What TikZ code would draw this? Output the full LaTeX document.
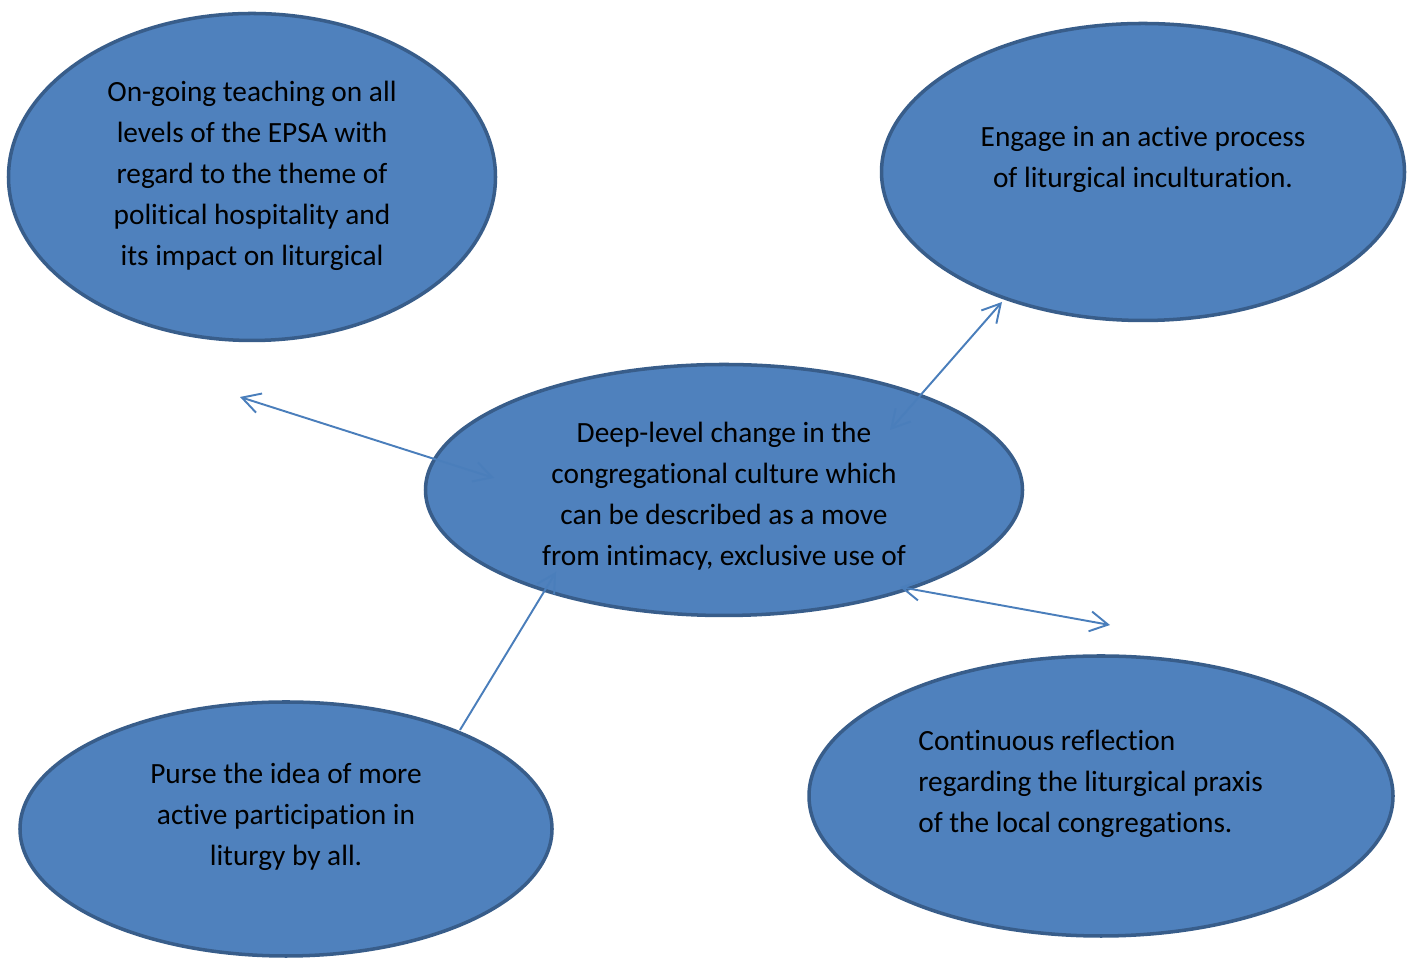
\documentclass[tikz,border=0pt]{standalone}
\usepackage{fontspec}
\setmainfont{Carlito}[Ligatures=NoCommon]
\usepackage{xcolor}
\usepackage{tikz}
\usetikzlibrary{positioning,arrows.meta,shapes.geometric}
\definecolor{ovalfill}{HTML}{4F81BD}
\definecolor{ovaldraw}{HTML}{385D8A}
\definecolor{linkcol}{HTML}{4A7EBB}
\tikzset{
  oval/.style={ellipse, draw=ovaldraw, fill=ovalfill, line width=2pt, inner sep=0pt},
  ovaltext/.style={inner sep=0pt, font=\fontsize{16.7}{23.3}\selectfont},
  link/.style={draw=linkcol, line width=1.1pt},
  barbtip/.tip={Straight Barb[length=3.6mm,width=4mm,line width=1.1pt]}
}

\begin{document}
\begin{tikzpicture}
\useasboundingbox (0,0) rectangle (28.14,19.2);
\node[oval, minimum width=9.74cm, minimum height=6.54cm] (teach) at (5.04,15.66) {}; % top left
\node[oval, minimum width=10.46cm, minimum height=5.94cm] (engage) at (22.86,15.76) {}; % top right
\node[oval, minimum width=11.94cm, minimum height=5.02cm] (change) at (14.48,9.4) {}; % centre
\node[oval, minimum width=10.64cm, minimum height=5.08cm] (purse) at (5.72,2.62) {}; % bottom left
\node[oval, minimum width=11.68cm, minimum height=5.6cm] (reflect) at (22.02,3.28) {}; % bottom right
%%Texts of the ovals are typeset.
\node[ovaltext, align=center, below = 1.39cm of teach.north] (teachtext) {On-going teaching on all\\levels of the EPSA with\\regard to the theme of\\political hospitality and\\its impact on liturgical};
\node[ovaltext, align=center, below = 2.09cm of engage.north] (engagetext) {Engage in an active process\\of liturgical inculturation.};
\begin{scope}
\clip (8,7.78) rectangle (21,12); % text cut at the bottom
\node[ovaltext, align=center, below = 1.18cm of change.north] (changetext) {Deep-level change in the\\congregational culture which\\can be described as a move\\from intimacy, exclusive use of};
\end{scope}
\node[ovaltext, align=center, below = 1.26cm of purse.north] (pursetext) {Purse the idea of more\\active participation in\\liturgy by all.};
\node[ovaltext, align=left, anchor=north west] (reflecttext) at (18.36,4.6) {Continuous reflection\\regarding the liturgical praxis\\of the local congregations.};
%%Ends of the arrows.
\coordinate (tl) at (4.8,11.26);
\coordinate (tlc) at (9.88,9.64);
\coordinate (tr) at (20.04,13.16);
\coordinate (trc) at (17.8,10.6);
\coordinate (br) at (22.2,6.7);
\coordinate (brc) at (18.0,7.46);
\coordinate (bl) at (9.2,4.6);
\coordinate (blc) at (11.12,7.76);
\draw[link, {barbtip}-{barbtip}] (tlc) -- (tl); % to top left
\draw[link, {barbtip}-{barbtip}] (trc) -- (tr); % to top right
\draw[link, {barbtip}-{barbtip}] (brc) -- (br); % to bottom right
\draw[link, -{barbtip}] (bl) -- (blc); % from bottom left
\end{tikzpicture}
\end{document}
